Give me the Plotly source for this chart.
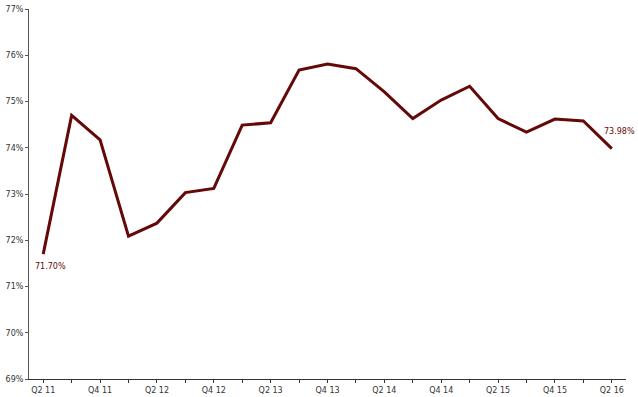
import plotly.graph_objects as go

quarters = ["Q2 11", "Q3 11", "Q4 11", "Q1 12", "Q2 12", "Q3 12", "Q4 12",
            "Q1 13", "Q2 13", "Q3 13", "Q4 13", "Q1 14", "Q2 14", "Q3 14",
            "Q4 14", "Q1 15", "Q2 15", "Q3 15", "Q4 15", "Q1 16", "Q2 16"]
values = [71.70, 74.70, 74.17, 72.09, 72.37, 73.03, 73.12,
          74.49, 74.54, 75.68, 75.81, 75.71, 75.21, 74.63,
          75.03, 75.33, 74.63, 74.34, 74.62, 74.58, 73.98]
y_ticks = [69, 70, 71, 72, 73, 74, 75, 76, 77]
y_tick_labels = [f"{v}%" for v in y_ticks]
x_tick_labels = [q if i % 2 == 0 else "" for i, q in enumerate(quarters)]

line_color = "#640808"
font_family = "DejaVu Sans"

fig = go.Figure()
fig.add_trace(go.Scatter(
    x=quarters, y=values, mode="lines",
    line=dict(color=line_color, width=3),
    hoverinfo="skip", showlegend=False,
))

fig.add_annotation(x=quarters[0], y=values[0], text=f"{values[0]:.2f}%",
                   showarrow=False, xshift=7, yshift=-12,
                   font=dict(family=font_family, size=8, color=line_color))
fig.add_annotation(x=quarters[-1], y=values[-1], text=f"{values[-1]:.2f}%",
                   showarrow=False, xshift=8, yshift=17,
                   font=dict(family=font_family, size=8, color=line_color))

fig.update_layout(
    width=638, height=397,
    margin=dict(l=29, r=12, t=9, b=18, autoexpand=False),
    paper_bgcolor="white", plot_bgcolor="white",
    font=dict(family=font_family, size=8, color="#333333"),
)
fig.update_xaxes(
    type="category", range=[-0.5, len(quarters) - 0.5],
    tickmode="array", tickvals=quarters, ticktext=x_tick_labels,
    showline=True, linecolor="#333333", linewidth=1,
    ticks="outside", ticklen=3, tickcolor="#333333",
    showgrid=False, zeroline=False, tickangle=0, automargin=False,
    tickfont=dict(size=8, color="#333333"),
)
fig.update_yaxes(
    range=[69, 77], tickmode="array", tickvals=y_ticks, ticktext=y_tick_labels,
    showline=True, linecolor="#555555", linewidth=1,
    ticks="outside", ticklen=3, tickcolor="#555555",
    showgrid=False, zeroline=False, automargin=False,
    tickfont=dict(size=8, color="#333333"),
)

fig.write_html("out.html")
